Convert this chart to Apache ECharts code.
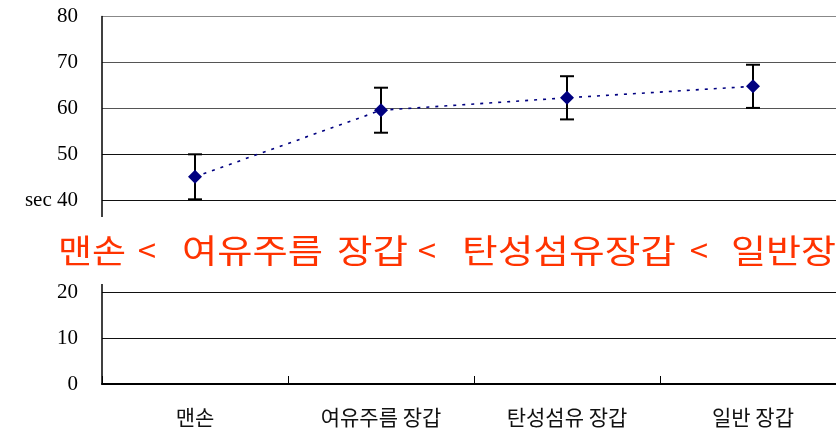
<!DOCTYPE html>
<html>
<head>
<meta charset="utf-8">
<script src="https://cdn.jsdelivr.net/npm/echarts@6/dist/echarts.min.js"></script>
<style>
  html, body { margin: 0; padding: 0; background: #fff; }
  #chart { width: 836px; height: 431px; }
</style>
</head>
<body>
<div id="chart"></div>
<script>
// Glove condition categories and mean times (sec) with their error margins
var categories = ['맨손', '여유주름 장갑', '탄성섬유 장갑', '일반 장갑'];
var meanTimes = [45.1, 59.6, 62.3, 64.8];
var errorMargins = [4.9, 4.9, 4.7, 4.7];
var yTicks = [0, 10, 20, 30, 40, 50, 60, 70, 80];
// Ranking banner, drawn piece by piece
var headlineParts = ['맨손', '<', '여유주름', '장갑', '<', '탄성섬유장갑', '<', '일반장갑'];

// Banner layout: left edge and ink width of each piece ('<' pieces are centred)
var bannerLeft = [58, 147, 182, 337, 427, 462, 699, 731];
var bannerWidth = [68, 0, 141, 71, 0, 214, 0, 140];

var errorData = meanTimes.map(function (m, i) {
  return [i, m - errorMargins[i], m + errorMargins[i]];
});

var bannerFont = '33px "Noto Sans CJK KR", sans-serif';
var measureCtx = document.createElement('canvas').getContext('2d');
measureCtx.font = bannerFont;

var bannerTexts = headlineParts.map(function (t, i) {
  var isSign = t === '<';
  var sx = 1;
  if (!isSign) {
    sx = bannerWidth[i] / measureCtx.measureText(t).width;
  }
  return {
    type: 'text',
    x: bannerLeft[i],
    y: 250,
    z: 101,
    scaleX: sx,
    scaleY: 1,
    originX: 0,
    originY: 0,
    style: {
      text: t,
      fill: '#ff3300',
      font: bannerFont,
      textVerticalAlign: 'middle',
      textAlign: isSign ? 'center' : 'left'
    }
  };
});

var chart = echarts.init(document.getElementById('chart'), null, { renderer: 'canvas' });

chart.setOption({
  animation: false,
  backgroundColor: '#ffffff',
  grid: { left: 102, top: 16.5, width: 744, bottom: 47, containLabel: false, outerBoundsMode: 'none' },
  xAxis: {
    type: 'category',
    data: categories,
    boundaryGap: true,
    axisLine: { show: true, lineStyle: { color: '#000', width: 2 } },
    axisTick: { show: true, inside: true, length: 8, lineStyle: { color: '#000', width: 1 } },
    axisLabel: {
      margin: 23,
      color: '#111',
      fontFamily: '"Noto Sans CJK KR", sans-serif',
      fontSize: 21
    }
  },
  yAxis: {
    type: 'value',
    min: yTicks[0],
    max: yTicks[yTicks.length - 1],
    interval: 10,
    axisLine: { show: true, lineStyle: { color: '#000', width: 1.5 } },
    axisTick: { show: false },
    axisLabel: {
      margin: 24,
      color: '#000',
      fontFamily: '"Liberation Serif", "Times New Roman", serif',
      fontSize: 21,
      formatter: function (v) { return v === 40 ? 'sec 40' : String(v); }
    },
    splitLine: {
      show: true,
      lineStyle: {
        color: ['#000', '#111', '#111', '#222', '#111', '#111', '#555', '#555', '#888'],
        width: 1.2
      }
    }
  },
  series: [
    {
      type: 'line',
      data: meanTimes,
      symbol: 'diamond',
      symbolSize: 14,
      itemStyle: { color: '#000080' },
      lineStyle: { color: '#000080', width: 1.6, type: [3, 6] },
      z: 3
    },
    {
      type: 'custom',
      data: errorData,
      z: 2,
      renderItem: function (params, api) {
        var x = api.value(0);
        var lo = api.coord([x, api.value(1)]);
        var hi = api.coord([x, api.value(2)]);
        var cap = 7;
        var style = { stroke: '#000', lineWidth: 2 };
        return {
          type: 'group',
          children: [
            { type: 'line', shape: { x1: lo[0], y1: lo[1], x2: hi[0], y2: hi[1] }, style: style },
            { type: 'line', shape: { x1: hi[0] - cap, y1: hi[1], x2: hi[0] + cap, y2: hi[1] }, style: style },
            { type: 'line', shape: { x1: lo[0] - cap, y1: lo[1], x2: lo[0] + cap, y2: lo[1] }, style: style }
          ]
        };
      }
    }
  ],
  graphic: [
    {
      type: 'rect',
      left: 0,
      top: 217,
      z: 100,
      shape: { width: 836, height: 67 },
      style: { fill: '#ffffff' }
    }
  ].concat(bannerTexts)
});
</script>
</body>
</html>
